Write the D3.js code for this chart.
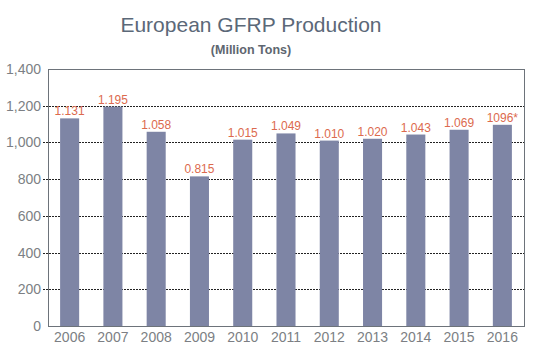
<!DOCTYPE html>
<html>
<head>
<meta charset="utf-8">
<script src="https://cdn.jsdelivr.net/npm/d3@7"></script>
<style>
  body { margin: 0; background: #fff; }
  text { font-family: "Liberation Sans", Arial, sans-serif; }
</style>
</head>
<body>
<div id="graph"></div>
<script>
// Chart data
const years = ["2006", "2007", "2008", "2009", "2010", "2011", "2012", "2013", "2014", "2015", "2016"];
const production = [1131, 1195, 1058, 815, 1015, 1049, 1010, 1020, 1043, 1069, 1096];
const valueLabels = ["1.131", "1.195", "1.058", "0.815", "1.015", "1.049", "1.010", "1.020", "1.043", "1.069", "1096*"];
const yTicks = [0, 200, 400, 600, 800, 1000, 1200, 1400];

const margin = { top: 69, right: 22, bottom: 35, left: 48 };
const width = 546 - margin.left - margin.right;
const height = 361 - margin.top - margin.bottom;

const root = d3.select("#graph")
  .append("svg")
  .attr("width", 546)
  .attr("height", 361);

// Title
root.append("text")
  .attr("x", 251)
  .attr("y", 32)
  .attr("text-anchor", "middle")
  .style("font-size", "21px")
  .style("fill", "#5b6878")
  .text("European GFRP Production");

root.append("text")
  .attr("x", 251)
  .attr("y", 54)
  .attr("text-anchor", "middle")
  .style("font-size", "12.5px")
  .style("font-weight", "bold")
  .style("fill", "#5e6670")
  .text("(Million Tons)");

const svg = root.append("g")
  .attr("transform", `translate(${margin.left},${margin.top})`);

const x = d3.scaleBand()
  .domain(years)
  .range([0, width])
  .paddingInner(0.56)
  .paddingOuter(0.28);

const y = d3.scaleLinear()
  .domain([0, 1400])
  .range([height, 0]);

// Dotted gridlines
svg.selectAll(".grid")
  .data(yTicks.filter(d => d > 0 && d < 1400))
  .join("line")
  .attr("class", "grid")
  .attr("x1", -5)
  .attr("x2", width)
  .attr("y1", d => Math.round(y(d)) + 0.5)
  .attr("y2", d => Math.round(y(d)) + 0.5)
  .attr("stroke", "#222")
  .attr("stroke-width", 1)
  .attr("stroke-dasharray", "2,1");

// Bars
svg.selectAll(".bar")
  .data(production)
  .join("rect")
  .attr("class", "bar")
  .attr("x", (d, i) => x(years[i]))
  .attr("y", d => y(d))
  .attr("width", x.bandwidth())
  .attr("height", d => height - y(d))
  .attr("fill", "#7e85a5");

// Value labels
svg.selectAll(".val")
  .data(production)
  .join("text")
  .attr("class", "val")
  .attr("x", (d, i) => x(years[i]) + x.bandwidth() / 2)
  .attr("y", d => y(d) - 3)
  .attr("text-anchor", "middle")
  .style("font-size", "12px")
  .style("fill", "#dc6a4e")
  .text((d, i) => valueLabels[i]);

// Frame
svg.append("rect")
  .attr("x", 0.5)
  .attr("y", 0.5)
  .attr("width", width)
  .attr("height", height)
  .attr("fill", "none")
  .attr("stroke", "#6d737a")
  .attr("stroke-width", 1);

// Y axis labels
svg.append("g")
  .call(d3.axisLeft(y).tickValues(yTicks).tickFormat(d3.format(",")).tickSize(0).tickPadding(7))
  .call(g => g.select(".domain").remove())
  .selectAll("text")
  .style("font-size", "14px")
  .style("fill", "#7c7f84")
  .style("font-family", "\"Liberation Sans\", Arial, sans-serif");

// X axis labels
svg.append("g")
  .attr("transform", `translate(0, ${height})`)
  .call(d3.axisBottom(x).tickSize(0).tickPadding(6))
  .call(g => g.select(".domain").remove())
  .selectAll("text")
  .style("font-size", "14px")
  .style("fill", "#7c7f84")
  .style("font-family", "\"Liberation Sans\", Arial, sans-serif");
</script>
</body>
</html>
